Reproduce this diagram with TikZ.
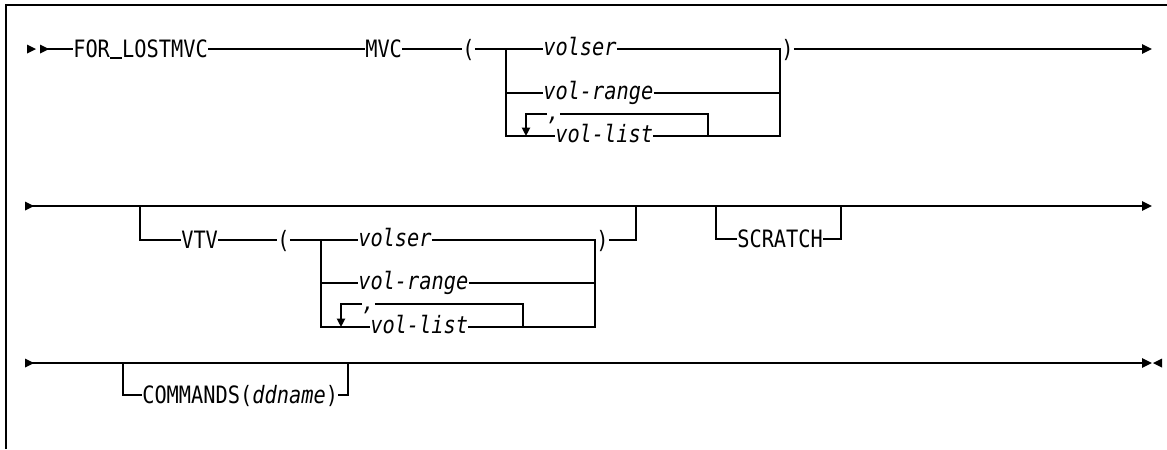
\documentclass[tikz,border=0pt]{standalone}
\usepackage{fontspec}
\newfontfamily\synfont[FakeStretch=0.85]{DejaVu Sans Mono}
\usetikzlibrary{arrows.meta,positioning}
% filled marks at the ends of a syntax line
\newcommand\rtri[1]{\fill (#1) ++(0,-4.5) -- ++(9,4.5) -- ++(-9,4.5) -- cycle;}
\newcommand\ltri[1]{\fill (#1) ++(9,-4.5) -- ++(-9,4.5) -- ++(9,4.5) -- cycle;}
\newcommand\uscore{\rule[-0.6pt]{8.7pt}{0.9pt}}

\begin{document}
\begin{tikzpicture}[x=0.025cm,y=-0.025cm,
  rail/.style={line width=1.3pt},
  frame/.style={line width=1.5pt},
  kw/.style={font=\synfont\fontsize{17}{19}\selectfont,anchor=west,inner sep=0pt,text height=12.4pt,text depth=0pt},
  var/.style={kw,font=\synfont\itshape\fontsize{17}{19}\selectfont,text height=9.3pt},
  tip/.style={rail,-{Triangle[length=7pt,width=6.6pt]}},
  back/.style={rail,-{Triangle[length=6pt,width=5.8pt]}}]
\useasboundingbox (0,0) rectangle (1167,449);
\draw[frame] (6,449) -- (6,5) -- (1167,5);
% Rows
\def\ra{49} \def\rb{206} \def\rc{363}
% 1. FOR_LOSTMVC MVC( ... )
\rtri{27,\ra} \rtri{40,\ra}
\coordinate (s1) at (40,\ra);
\node[kw] (forl) at (73,\ra) {FOR\uscore LOSTMVC};
\node[kw] (mvc) at (365,\ra) {MVC};
\node[kw] (lpa) at (462,\ra) {(};
\node[var] (vsa) at (543,\ra) {volser};
\node[var] (vra) at (543,93) {vol-range};
\node[var] (cma) at (547,114) {,};
\node[var] (vla) at (555,136) {vol-list};
\node[kw] (rpa) at (781,\ra) {)};
\coordinate (ba) at (506,\ra); \coordinate (ca) at (780,\ra);
\coordinate (la) at (526,136); \coordinate (ta) at (708,136);
\coordinate (ea) at (1152,\ra);
\draw[rail] (s1) -- (forl.west) (forl.east) -- (mvc.west) (mvc.east) -- (lpa.west);
\draw[rail] (lpa.east) -- (vsa.west) (vsa.east) -- (rpa.west);
\draw[rail] (ba) |- (vra.west) (ba) |- (vla.west);
\draw[rail] (vra.east) -| (ca) (vla.east) -| (ca);
\draw[back] (cma.west) -| (la);
\draw[rail] (cma.east) -| (ta);
\draw[tip] (rpa.east) -- (ea);
% 2. VTV( ... ) and SCRATCH
\rtri{25,\rb}
\coordinate (s2) at (25,\rb); \coordinate (e2) at (1152,\rb);
\draw[tip] (s2) -- (e2);
\node[kw] (vtv) at (181,240) {VTV};
\node[kw] (lpb) at (277,240) {(};
\node[var] (vsb) at (358,240) {volser};
\node[var] (vrb) at (358,283) {vol-range};
\node[var] (cmb) at (362,304) {,};
\node[var] (vlb) at (370,327) {vol-list};
\node[kw] (rpb) at (596,240) {)};
\coordinate (bb) at (321,240); \coordinate (cb) at (595,240);
\coordinate (lb) at (341,327); \coordinate (tb) at (523,327);
\coordinate (vin) at (140,\rb); \coordinate (vout) at (636,\rb);
\draw[rail] (vin) |- (vtv.west) (vtv.east) -- (lpb.west);
\draw[rail] (lpb.east) -- (vsb.west) (vsb.east) -- (rpb.west);
\draw[rail] (bb) |- (vrb.west) (bb) |- (vlb.west);
\draw[rail] (vrb.east) -| (cb) (vlb.east) -| (cb);
\draw[back] (cmb.west) -| (lb);
\draw[rail] (cmb.east) -| (tb);
\draw[rail] (rpb.east) -| (vout);
\node[kw] (scr) at (737,239) {SCRATCH};
\coordinate (sin) at (716,\rb); \coordinate (sout) at (841,\rb);
\draw[rail] (sin) |- (scr.west) (scr.east) -| (sout);
% 3. COMMANDS(ddname)
\rtri{25,\rc}
\coordinate (s3) at (25,\rc); \coordinate (e3) at (1152,\rc);
\draw[tip] (s3) -- (e3);
\ltri{1153,\rc}
\node[kw] (cmd) at (142,395) {COMMANDS(\textit{ddname})};
\coordinate (cin) at (123,\rc); \coordinate (cout) at (348,\rc);
\draw[rail] (cin) |- (cmd.west) (cmd.east) -| (cout);
\end{tikzpicture}
\end{document}
